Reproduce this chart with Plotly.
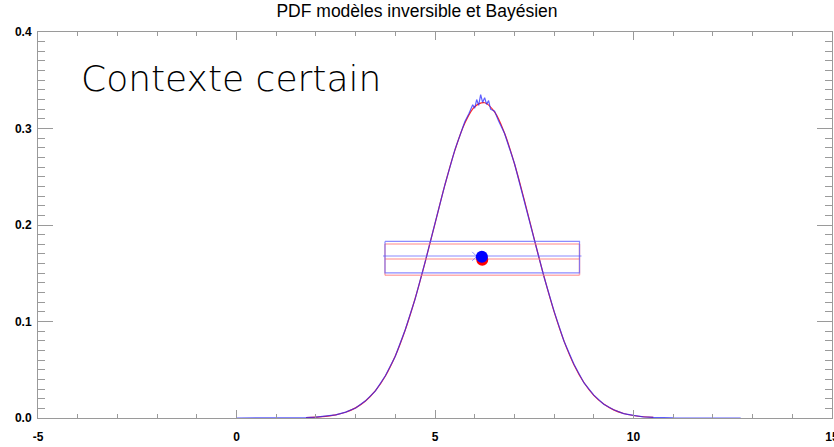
import plotly.graph_objects as go

# Red curve (model PDF)
red_x = [1.75, 2.0, 2.25, 2.5, 2.75, 3.0, 3.25, 3.5, 3.75, 4.0, 4.25, 4.5, 4.75, 5.0, 5.25, 5.5,
         5.75, 6.0, 6.25, 6.5, 6.75, 7.0, 7.25, 7.5, 7.75, 8.0, 8.25, 8.5, 8.75, 9.0, 9.25,
         9.5, 9.75, 10.0, 10.25, 10.5]
red_y = [0.0004, 0.0009, 0.0017, 0.0033, 0.0060, 0.0105, 0.0176, 0.0283, 0.0436, 0.0643, 0.0912,
         0.1238, 0.1613, 0.2015, 0.2415, 0.2773, 0.3055, 0.3226, 0.3267, 0.3172, 0.2954, 0.2637,
         0.2258, 0.1853, 0.1459, 0.1102, 0.0797, 0.0553, 0.0368, 0.0235, 0.0144, 0.0084, 0.0047,
         0.0026, 0.0013, 0.0006]

# Blue curve (sampled histogram)
blue_x = [0.0, 1.0, 1.5, 1.75, 2.0, 2.25, 2.5, 2.75, 3.0, 3.25, 3.5, 3.75, 4.0, 4.25, 4.5, 4.75,
          5.0, 5.25, 5.5, 5.65, 5.75, 5.85, 5.95, 6.0, 6.05, 6.1, 6.15, 6.2, 6.25, 6.3, 6.35,
          6.4, 6.5, 6.6, 6.75, 7.0, 7.25, 7.5, 7.75, 8.0, 8.25, 8.5, 8.75, 9.0, 9.25, 9.5,
          9.75, 10.0, 10.25, 10.5, 11.0, 12.7]
blue_y = [0.0, 0.0, 0.0002, 0.0005, 0.0009, 0.0018, 0.0032, 0.0061, 0.0104, 0.0178, 0.0281,
          0.0438, 0.0640, 0.0915, 0.1235, 0.1616, 0.2012, 0.2418, 0.2778, 0.2950, 0.3070,
          0.3150, 0.3245, 0.3210, 0.3300, 0.3240, 0.3350, 0.3270, 0.3320, 0.3250, 0.3290,
          0.3200, 0.3180, 0.3080, 0.2950, 0.2640, 0.2255, 0.1855, 0.1456, 0.1105, 0.0795,
          0.0556, 0.0366, 0.0237, 0.0143, 0.0085, 0.0046, 0.0027, 0.0012, 0.0006, 0.0001, 0.0]

# Interval boxes (mean +/- 2 sigma horizontally)
box_x0, box_x1 = 3.74, 8.64
blue_levels = [0.1830, 0.1679, 0.1503]
red_levels = [0.1803, 0.1648, 0.1480]
blue_mean = (6.18, 0.1672)
red_mean = (6.19, 0.1640)
cross_pt = (6.05, 0.1675)

title = "PDF modèles inversible et Bayésien"
x_ticks = [-5, 0, 5, 10, 15]
y_ticks = [0.0, 0.1, 0.2, 0.3, 0.4]
y_tick_text = ["0.0", "0.1", "0.2", "0.3", "0.4"]

fig = go.Figure()

fig.add_trace(go.Scatter(x=red_x, y=red_y, mode="lines", line=dict(color="rgb(255,40,40)", width=1.2, shape="spline"),
                         showlegend=False, hoverinfo="skip"))
fig.add_trace(go.Scatter(x=blue_x, y=blue_y, mode="lines", line=dict(color="rgba(40,40,255,0.75)", width=1.2),
                         showlegend=False, hoverinfo="skip"))

# Red rectangle lines
for lv in red_levels:
    fig.add_trace(go.Scatter(x=[box_x0, box_x1], y=[lv, lv], mode="lines",
                             line=dict(color="rgba(255,120,120,0.6)", width=1.5), showlegend=False, hoverinfo="skip"))
fig.add_trace(go.Scatter(x=[box_x0, box_x0, None, box_x1, box_x1], y=[red_levels[0], red_levels[2], None, red_levels[0], red_levels[2]],
                         mode="lines", line=dict(color="rgba(255,120,120,0.6)", width=1.5), showlegend=False, hoverinfo="skip"))
# Blue rectangle
fig.add_trace(go.Scatter(x=[box_x0, box_x1, box_x1, box_x0, box_x0], y=[blue_levels[0], blue_levels[0], blue_levels[2], blue_levels[2], blue_levels[0]],
                         mode="lines", line=dict(color="rgba(90,90,255,0.7)", width=1.2), showlegend=False, hoverinfo="skip"))
fig.add_trace(go.Scatter(x=[box_x0 - 0.05, box_x1 + 0.05], y=[blue_levels[1], blue_levels[1]], mode="lines",
                         line=dict(color="rgba(90,90,255,0.7)", width=1.2), showlegend=False, hoverinfo="skip"))

fig.add_trace(go.Scatter(x=[cross_pt[0]], y=[cross_pt[1]], mode="markers",
                         marker=dict(symbol="x-thin", size=9, line=dict(color="rgba(120,120,255,0.8)", width=1)),
                         showlegend=False, hoverinfo="skip"))
fig.add_trace(go.Scatter(x=[red_mean[0]], y=[red_mean[1]], mode="markers",
                         marker=dict(color="red", size=12, line=dict(width=0)), showlegend=False, hoverinfo="skip"))
fig.add_trace(go.Scatter(x=[blue_mean[0]], y=[blue_mean[1]], mode="markers",
                         marker=dict(color="blue", size=12, line=dict(width=0)), showlegend=False, hoverinfo="skip"))

axis_common = dict(showgrid=False, zeroline=False, showline=True, linecolor="#9a9a9a", linewidth=1,
                   mirror="ticks", ticks="inside", tickcolor="#9a9a9a", tickwidth=1,
                   ticklabeloverflow="allow", automargin=False,
                   tickfont=dict(family="Liberation Sans, Arial", size=12, color="black", weight="bold"))

fig.update_xaxes(range=[-5, 15], tickvals=x_ticks, ticktext=[str(v) for v in x_ticks], ticklen=8,
                 minor=dict(ticks="inside", dtick=1, ticklen=4, tickcolor="#9a9a9a"),
                 ticklabelstandoff=8, **axis_common)
fig.update_yaxes(range=[0, 0.4], tickvals=y_ticks, ticktext=y_tick_text, ticklen=15,
                 minor=dict(ticks="inside", dtick=0.01, ticklen=7, tickcolor="#9a9a9a"),
                 ticklabelstandoff=3, **axis_common)

fig.add_annotation(text="Contexte certain", xref="paper", yref="paper", x=0.052, y=0.88,
                   xanchor="left", yanchor="middle", showarrow=False,
                   font=dict(family="DejaVu Sans", size=36, color="black", weight=200))

fig.update_layout(
    title=dict(text=title, x=0.5, xanchor="center", y=0.99, yanchor="top",
               font=dict(family="Liberation Sans, Arial", size=17.5, color="black")),
    width=834, height=447,
    margin=dict(l=38, r=2, t=32, b=29),
    plot_bgcolor="white", paper_bgcolor="white",
)

fig.write_html("out.html")
